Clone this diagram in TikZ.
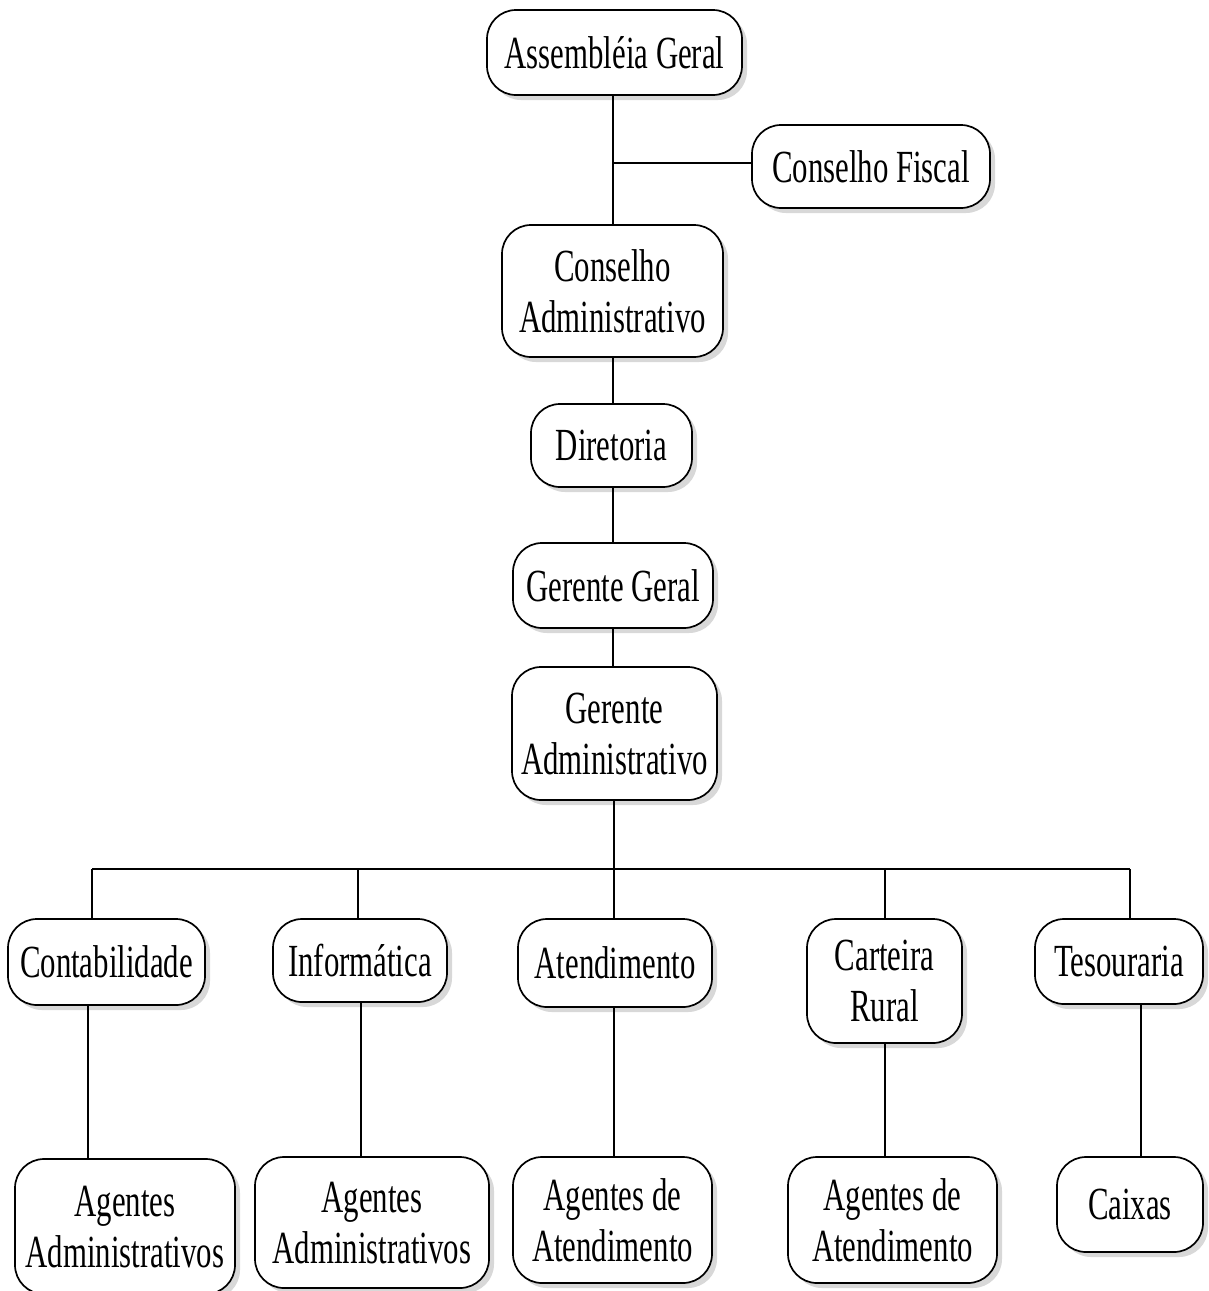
\documentclass[tikz,border=0pt]{standalone}
\usepackage{fontspec}
\setmainfont{Liberation Serif}[FakeStretch=0.67]
\usepackage{tikz}
\usetikzlibrary{shadows}
\tikzset{
    org_node/.style = {align=center, inner sep=0pt, text centered, text depth=0pt, rectangle, rounded corners=29pt,
        draw=black, line width=1.7pt, fill=white, font=\fontsize{46}{51}\selectfont,
        drop shadow={shadow xshift=5pt, shadow yshift=-5pt, fill=black!30}},
    org_line/.style = {draw=black, line width=1.7pt}
}

\begin{document}
\begin{tikzpicture}[x=1pt, y=-1pt]
    \fill[white] (0,0) rectangle (1209,1291);
    \useasboundingbox (0,0) rectangle (1209,1291);

    \node[org_node, minimum width=255pt, minimum height=85pt] (asm) at (614.5,52.5) {Assembléia Geral};
    \node[org_node, minimum width=238pt, minimum height=83pt] (fis) at (871,166.5) {Conselho Fiscal};
    \node[org_node, minimum width=221pt, minimum height=132pt] (cadm) at (612.5,291) {Conselho\\Administrativo};
    \node[org_node, minimum width=161pt, minimum height=83pt] (dir) at (611.5,445.5) {Diretoria};
    \node[org_node, minimum width=200pt, minimum height=85pt] (gg) at (613,585.5) {Gerente Geral};
    \node[org_node, minimum width=205pt, minimum height=133pt] (gadm) at (614.5,733.5) {Gerente\\Administrativo};

    \node[org_node, minimum width=197pt, minimum height=86pt] (conta) at (106.5,962) {Contabilidade};
    \node[org_node, minimum width=174pt, minimum height=83pt] (info) at (360,960.5) {Informática};
    \node[org_node, minimum width=194pt, minimum height=88pt] (aten) at (615,963) {Atendimento};
    \node[org_node, minimum width=155pt, minimum height=124pt] (cart) at (884.5,981) {Carteira\\Rural};
    \node[org_node, minimum width=168pt, minimum height=85pt] (teso) at (1119,961.5) {Tesouraria};

    \node[org_node, minimum width=220pt, minimum height=135pt] (agad1) at (125,1226.5) {Agentes\\Administrativos};
    \node[org_node, minimum width=234pt, minimum height=131pt] (agad2) at (372,1222.5) {Agentes\\Administrativos};
    \node[org_node, minimum width=199pt, minimum height=126pt] (agat1) at (612.5,1220) {Agentes de\\Atendimento};
    \node[org_node, minimum width=209pt, minimum height=126pt] (agat2) at (892.5,1220) {Agentes de\\Atendimento};
    \node[org_node, minimum width=146pt, minimum height=95pt] (caix) at (1130,1204.5) {Caixas};

    \coordinate (mid) at (613,0);
    \coordinate (bra) at (613,163);
    \coordinate (c1) at (92,869);
    \coordinate (c2) at (358,869);
    \coordinate (c3) at (614,869);
    \coordinate (c4) at (885,869);
    \coordinate (c5) at (1130,869);
    \coordinate (l1) at (88,0);
    \coordinate (l2) at (361,0);
    \coordinate (l3) at (614,0);
    \coordinate (l4) at (885,0);
    \coordinate (l5) at (1141,0);

    \path[org_line] (asm.south -| mid) -- (cadm.north -| mid);
    \path[org_line] (bra) -- (fis.west |- bra);
    \path[org_line] (cadm.south -| mid) -- (dir.north -| mid);
    \path[org_line] (dir.south -| mid) -- (gg.north -| mid);
    \path[org_line] (gg.south -| mid) -- (gadm.north -| mid);
    \path[org_line] (gadm.south -| c3) -- (c3);
    \path[org_line] (c1) -- (c5);
    \path[org_line] (c1) -- (c1 |- conta.north);
    \path[org_line] (c2) -- (c2 |- info.north);
    \path[org_line] (c3) -- (c3 |- aten.north);
    \path[org_line] (c4) -- (c4 |- cart.north);
    \path[org_line] (c5) -- (c5 |- teso.north);
    \path[org_line] (conta.south -| l1) -- (agad1.north -| l1);
    \path[org_line] (info.south -| l2) -- (agad2.north -| l2);
    \path[org_line] (aten.south -| l3) -- (agat1.north -| l3);
    \path[org_line] (cart.south -| l4) -- (agat2.north -| l4);
    \path[org_line] (teso.south -| l5) -- (caix.north -| l5);
\end{tikzpicture}
\end{document}
